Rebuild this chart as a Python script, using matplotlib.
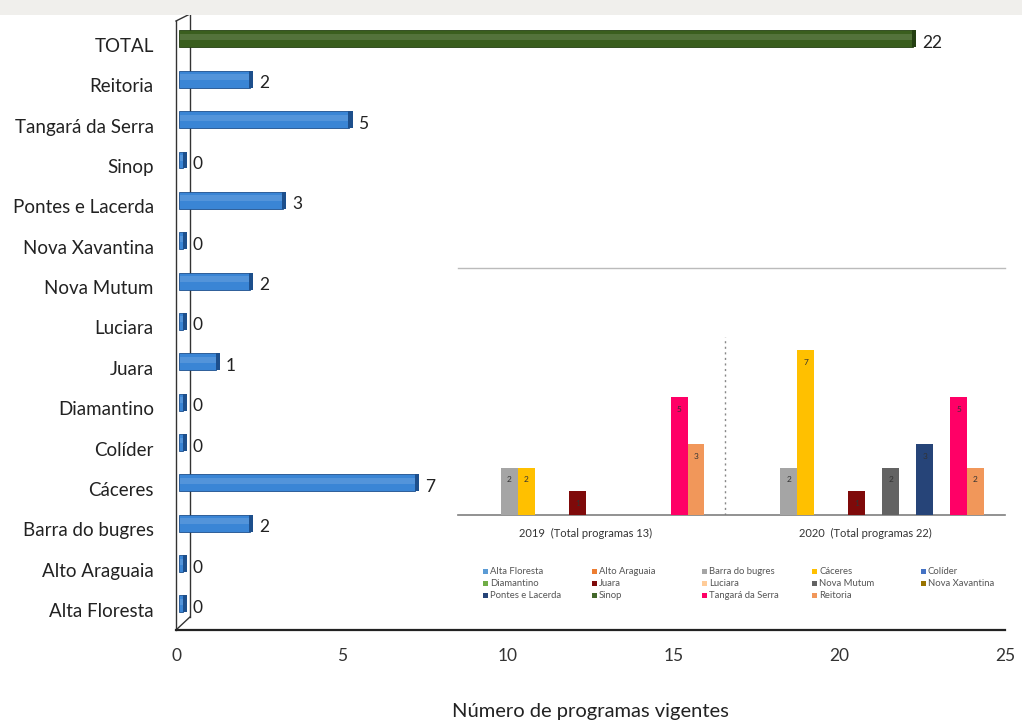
import matplotlib
matplotlib.use('Agg')
import matplotlib.pyplot as plt
from matplotlib.patches import Rectangle
import numpy as np

# ---------------- data ----------------
categories = ['Alta Floresta', 'Alto Araguaia', 'Barra do bugres', 'Cáceres', 'Colíder',
              'Diamantino', 'Juara', 'Luciara', 'Nova Mutum', 'Nova Xavantina',
              'Pontes e Lacerda', 'Sinop', 'Tangará da Serra', 'Reitoria', 'TOTAL']
values = [0, 0, 2, 7, 0, 0, 1, 0, 2, 0, 3, 0, 5, 2, 22]
xticks = [0, 5, 10, 15, 20, 25]
xlabel = 'Número de programas vigentes'

inset_groups = ['2019  (Total programas 13)', '2020  (Total programas 22)']
inset_series = ['Alta Floresta', 'Alto Araguaia', 'Barra do bugres', 'Cáceres', 'Colíder',
                'Diamantino', 'Juara', 'Luciara', 'Nova Mutum', 'Nova Xavantina',
                'Pontes e Lacerda', 'Sinop', 'Tangará da Serra', 'Reitoria']
values_2019 = [0, 0, 2, 2, 0, 0, 1, 0, 0, 0, 0, 0, 5, 3]
values_2020 = [0, 0, 2, 7, 0, 0, 1, 0, 2, 0, 3, 0, 5, 2]
inset_colors = ['#5B9BD5', '#ED7D31', '#A5A5A5', '#FFC000', '#4472C4',
                '#70AD47', '#7F0A0A', '#FFCC99', '#636363', '#997300',
                '#264478', '#43682B', '#FF0066', '#F1975A']

plt.rcParams['font.family'] = ['Lato', 'DejaVu Sans']

W, H = 1022, 727
fig = plt.figure(figsize=(W / 100, H / 100), dpi=100)
fig.patch.set_facecolor('white')
# faint top strip
fig.patches.append(Rectangle((0, 1 - 15 / H), 1, 15 / H, transform=fig.transFigure,
                             facecolor='#F0EFEC', edgecolor='none', zorder=0))

# ---------------- main chart ----------------
ax = fig.add_axes([176 / W, (H - 630) / H, (1005 - 176) / W, (630 - 12) / H])
y = np.arange(len(categories))
vals = np.array(values, dtype=float)
ax.set_xlim(0, 25)
YB, YT = -0.496, 14.818
ax.set_ylim(YB, YT)

bar_colors = ['#3A85D5'] * (len(categories) - 1) + ['#3A5E1E']
cap_colors = ['#1D4F8C'] * (len(categories) - 1) + ['#243F12']
BAR_H = 0.42
YSHIFT = 0.15
ax.barh(y + YSHIFT, vals + 0.12, left=0.1, height=BAR_H, color=bar_colors,
        edgecolor=cap_colors, linewidth=0.6, zorder=3)
# light highlight on upper part
ax.barh(y + YSHIFT + BAR_H * 0.12, vals + 0.1, left=0.11, height=BAR_H * 0.35,
        color='white', alpha=0.13, linewidth=0, zorder=4)
# 3D end caps
ax.barh(y + YSHIFT, 0.13, left=vals + 0.2, height=BAR_H, color=cap_colors,
        linewidth=0, zorder=4)

for yi, v in zip(y, vals):
    ax.text(v + 0.5, yi + 0.05, f'{int(v)}', va='center', ha='left',
            fontsize=12.5, color='#222222', zorder=5)

# wall (3D back plane)
wx = 0.42
ax.plot([0, 0], [YB, 14.595], color='#333333', lw=1.0, zorder=2, clip_on=False)
ax.plot([wx, wx], [YB + 0.322, 14.768], color='#333333', lw=1.0, zorder=2, clip_on=False)
ax.plot([0, wx], [14.595, 14.768], color='#333333', lw=1.0, zorder=2, clip_on=False)
ax.plot([0, wx], [YB, YB + 0.322], color='#333333', lw=1.0, zorder=2, clip_on=False)

for s in ['top', 'right', 'left']:
    ax.spines[s].set_visible(False)
ax.spines['bottom'].set_color('#222222')
ax.spines['bottom'].set_linewidth(1.6)
ax.set_xticks(xticks)
ax.set_xticklabels([str(t) for t in xticks], fontsize=12.5, color='#333333')
ax.tick_params(axis='x', length=0, pad=13)
ax.set_yticks(y)
ax.set_yticklabels(categories, fontsize=13.5, color='#222222')
ax.tick_params(axis='y', length=0, pad=16)
ax.set_xlabel(xlabel, fontsize=14.5, color='#222222', labelpad=28)
ax.patch.set_alpha(0)

# ---------------- inset chart ----------------
iax = fig.add_axes([458 / W, (H - 515) / H, (1005 - 458) / W, (515 - 268) / H])
iax.set_facecolor('white')
n = len(inset_series)
bw = 0.0607
gx = np.arange(len(inset_groups))
for i, (name, c) in enumerate(zip(inset_series, inset_colors)):
    hv = np.array([values_2019[i], values_2020[i]], dtype=float)
    xs = gx + (i - (n - 1) / 2) * bw
    iax.bar(xs, hv, width=bw, color=c, linewidth=0, zorder=3)
    for xx, h in zip(xs, hv):
        if h > 0:
            iax.text(xx, h - 0.35, f'{int(h)}', ha='center', va='top', fontsize=6,
                     color='#333333', zorder=4)
iax.set_xlim(-0.457, 1.5)
iax.set_ylim(0, 10.5)
iax.axvline(0.5, ymin=0, ymax=0.72, color='#888888', lw=1.0, ls=(0, (1.5, 2.5)), zorder=2)
iax.set_yticks([])
iax.set_xticks(gx)
iax.set_xticklabels(inset_groups, fontsize=8, color='#333333')
iax.tick_params(axis='x', length=0, pad=9)
iax.spines['left'].set_visible(False)
iax.spines['right'].set_visible(False)
iax.spines['top'].set_color('#BBBBBB')
iax.spines['top'].set_linewidth(1.0)
iax.spines['bottom'].set_color('#7F7F7F')
iax.spines['bottom'].set_linewidth(1.2)

# legend, row-major in 5 columns
col_x = [485, 594, 704, 814, 923]
row_y = [571, 583, 595]
ms = 5
for i, (name, c) in enumerate(zip(inset_series, inset_colors)):
    r, k = divmod(i, 5)
    px, py = col_x[k], row_y[r]
    fig.patches.append(Rectangle(((px - ms / 2) / W, (H - py - ms / 2) / H), ms / W, ms / H,
                                 transform=fig.transFigure, facecolor=c,
                                 edgecolor='none', zorder=5))
    fig.text((px + 5) / W, (H - py) / H, name, fontsize=6.8, color='#555555',
             va='center', ha='left')

fig.savefig('out.png', dpi=100)
